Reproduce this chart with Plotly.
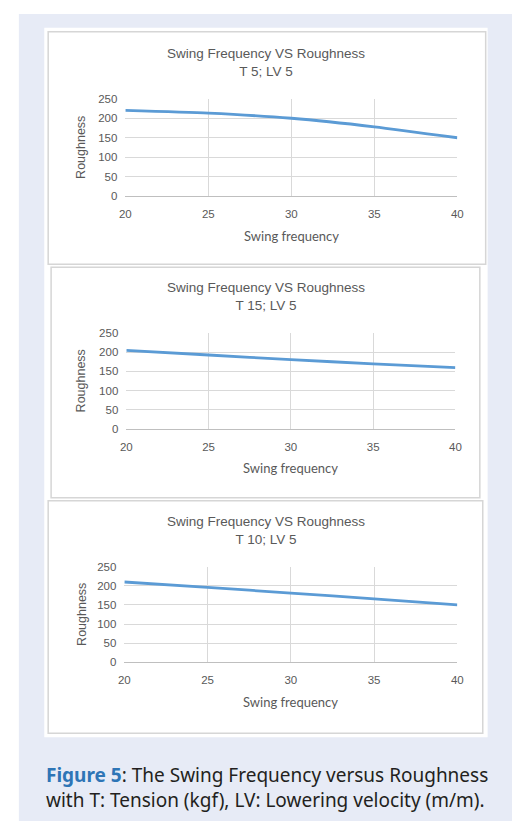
import plotly.graph_objects as go

# page body has an 8px default margin; size the figure so the page never overflows
OFF = 8
W, H = 520 - OFF, 829 - 2 * OFF

swing_frequency = [20, 25, 30, 35, 40]
roughness_t5 = [220, 213, 200, 178, 150]
roughness_t15 = [205, 193, 181, 170, 160]
roughness_t10 = [210, 196, 181, 166, 150]

panel_titles = ["Swing Frequency VS Roughness<br>T 5; LV 5",
                "Swing Frequency VS Roughness<br>T 15; LV 5",
                "Swing Frequency VS Roughness<br>T 10; LV 5"]
series = [roughness_t5, roughness_t15, roughness_t10]
y_ticks = [0, 50, 100, 150, 200, 250]
x_ticks = [20, 25, 30, 35, 40]


def px(x):
    return (x - OFF) / W


def py(y):
    return 1 - (y - OFF) / H


# panel frames (page px) and plot areas (page px)
panels = [(43, 26, 491, 262), (46, 265, 485, 499), (43, 502, 488, 738)]
plots = [(122, 94, 462, 193), (123, 332, 460, 429), (121, 569, 462, 666)]

fig = go.Figure()
shapes = [
    dict(type="rect", xref="paper", yref="paper", x0=px(13), x1=px(540), y0=py(850), y1=py(8),
         fillcolor="#e7ebf6", line=dict(width=0), layer="below"),
    dict(type="rect", xref="paper", yref="paper", x0=px(39), x1=px(493), y0=py(742), y1=py(22),
         fillcolor="white", line=dict(width=0), layer="below"),
]
for (x0, y0, x1, y1) in panels:
    shapes.append(dict(type="rect", xref="paper", yref="paper", x0=px(x0), x1=px(x1), y0=py(y1), y1=py(y0),
                       fillcolor="white", line=dict(color="#d6d6d6", width=1.5), layer="below"))

annotations = []
grey = "#595959"
for i, ((x0, y0, x1, y1), title, vals) in enumerate(zip(plots, panel_titles, series)):
    n = "" if i == 0 else str(i + 1)
    fig.add_trace(go.Scatter(x=swing_frequency, y=vals, mode="lines",
                             line=dict(color="#5b9bd5", width=2.8, shape="spline", smoothing=0.6),
                             xaxis="x" + n, yaxis="y" + n, showlegend=False, hoverinfo="x+y"))
    fig.layout["xaxis" + n] = dict(domain=[px(x0), px(x1)], anchor="y" + n, range=[20, 40],
                                   tickvals=x_ticks, showgrid=True, gridcolor="#d9d9d9", gridwidth=1,
                                   showline=True, linecolor="#bfbfbf", linewidth=1, zeroline=False,
                                   ticks="", tickfont=dict(family="Arial", size=11.5, color=grey),
                                   ticklabelstandoff=7, fixedrange=True)
    fig.layout["yaxis" + n] = dict(domain=[py(y1), py(y0)], anchor="x" + n, range=[0, 250],
                                   tickvals=y_ticks, showgrid=True, gridcolor="#d9d9d9", gridwidth=1,
                                   showline=False, zeroline=False, ticks="",
                                   tickfont=dict(family="Arial", size=11.5, color=grey),
                                   ticklabelstandoff=7, fixedrange=True)
    cx = (x0 + x1) / 2
    annotations.append(dict(text=title, xref="paper", yref="paper", x=px(266),
                            y=py(y0 - 37), xanchor="center", yanchor="middle", showarrow=False,
                            font=dict(family="Arial", size=13.5, color=grey)))
    annotations.append(dict(text="Roughness", xref="paper", yref="paper", x=px(77), y=py((y0 + y1) / 2),
                            xanchor="center", yanchor="middle", textangle=-90, showarrow=False,
                            font=dict(family="Arial", size=12.5, color=grey)))
    annotations.append(dict(text="Swing frequency", xref="paper", yref="paper", x=px(cx), y=py(y1 + 40),
                            xanchor="center", yanchor="middle", showarrow=False,
                            font=dict(family="Lato", size=13, color=grey)))

annotations.append(dict(text="<b><span style='color:#2e75b6'>Figure 5</span></b>: The Swing Frequency versus Roughness<br>with T: Tension (kgf), LV: Lowering velocity (m/m).",
                        xref="paper", yref="paper", x=px(39), y=py(793), xanchor="left", yanchor="middle",
                        align="left", showarrow=False,
                        font=dict(family="Noto Sans", size=19, color="#231f20")))

fig.update_layout(width=W, height=H, margin=dict(l=0, r=0, t=0, b=0), paper_bgcolor="white",
                  plot_bgcolor="rgba(0,0,0,0)", shapes=shapes, annotations=annotations, showlegend=False)
fig.write_html("out.html")
